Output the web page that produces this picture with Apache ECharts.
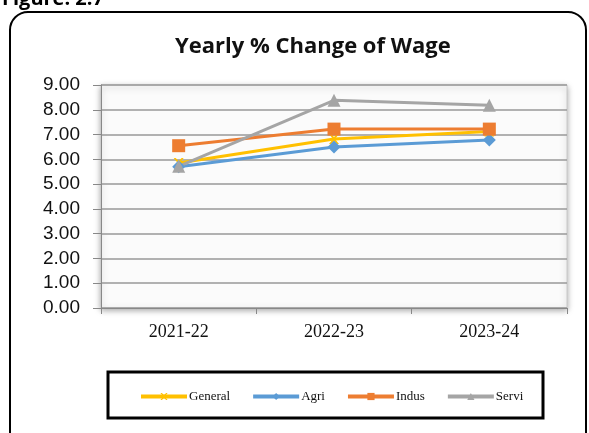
<!DOCTYPE html>
<html><head><meta charset="utf-8">
<script src="https://cdn.jsdelivr.net/npm/echarts@6/dist/echarts.min.js"></script>
<style>html,body{margin:0;padding:0;background:#fff}#c{width:589px;height:433px}</style>
</head><body><div id="c"></div>
<script>
const categories = ['2021-22', '2022-23', '2023-24'];
const general = [5.85, 6.82, 7.12];
const agri = [5.7, 6.5, 6.78];
const indus = [6.55, 7.22, 7.22];
const servi = [5.72, 8.38, 8.18];
const yTicks = [0, 9, 1];

const xPath = 'path://M0,0L2,0L5,3L8,0L10,0L6,5L10,10L8,10L5,7L2,10L0,10L4,5Z';
const chart = echarts.init(document.getElementById('c'));
function ser(name, data, color, symbol, size) {
  return {name, type:'line', data, symbol, symbolSize:size, showAllSymbol:true,
    lineStyle:{color, width:3}, itemStyle:{color}, z:3};
}
chart.setOption({
  animation:false,
  title:{text:'Yearly % Change of Wage', left:170, top:31,
    textStyle:{fontFamily:'Open Sans', fontWeight:'bold', fontSize:22, color:'#111'}},
  graphic:[
    {type:'text', left:2, top:-11, style:{text:'Figure: 2.7', font:'bold 20px "Open Sans"', fill:'#000'}},
    {type:'rect', shape:{x:10, y:12, width:576, height:440, r:18}, style:{fill:'none', stroke:'#000', lineWidth:2}, z:0},
    {type:'rect', shape:{x:108, y:372, width:435, height:46}, style:{fill:'#fff', stroke:'#000', lineWidth:3}, z:1}
  ],
  grid:{left:101, right:22, top:85, bottom:125, show:true, backgroundColor:'#fbfbfb', borderColor:'#c8c8c8', borderWidth:1,
    shadowColor:'rgba(0,0,0,0.35)', shadowBlur:6, shadowOffsetY:2},
  legend:{bottom:25, left:134, itemWidth:46, itemHeight:9, itemGap:21,
    lineStyle:{width:4},
    textStyle:{fontFamily:'Liberation Serif', fontSize:13, color:'#111', padding:[0,0,0,-3]},
    data:['General','Agri','Indus','Servi'], z:5},
  xAxis:{type:'category', data:categories, boundaryGap:true,
    axisLine:{lineStyle:{color:'#888', width:1}},
    axisTick:{show:true, length:6, lineStyle:{color:'#888'}},
    axisLabel:{fontFamily:'Liberation Serif', fontSize:18, color:'#111', margin:15}},
  yAxis:{type:'value', min:yTicks[0], max:yTicks[1], interval:yTicks[2],
    axisLine:{show:true, lineStyle:{color:'#888'}},
    axisTick:{show:true, length:8, lineStyle:{color:'#888'}},
    splitLine:{lineStyle:{color:'#999', width:1.5}},
    axisLabel:{fontFamily:'Liberation Sans', fontSize:19, color:'#111', margin:21,
      formatter:v=>v.toFixed(2)}},
  series:[
    ser('General', general, '#FFC000', xPath, 10),
    ser('Agri', agri, '#5B9BD5', 'diamond', 13),
    ser('Indus', indus, '#ED7D31', 'rect', 13),
    ser('Servi', servi, '#A5A5A5', 'triangle', 13)
  ]
});
</script></body></html>
